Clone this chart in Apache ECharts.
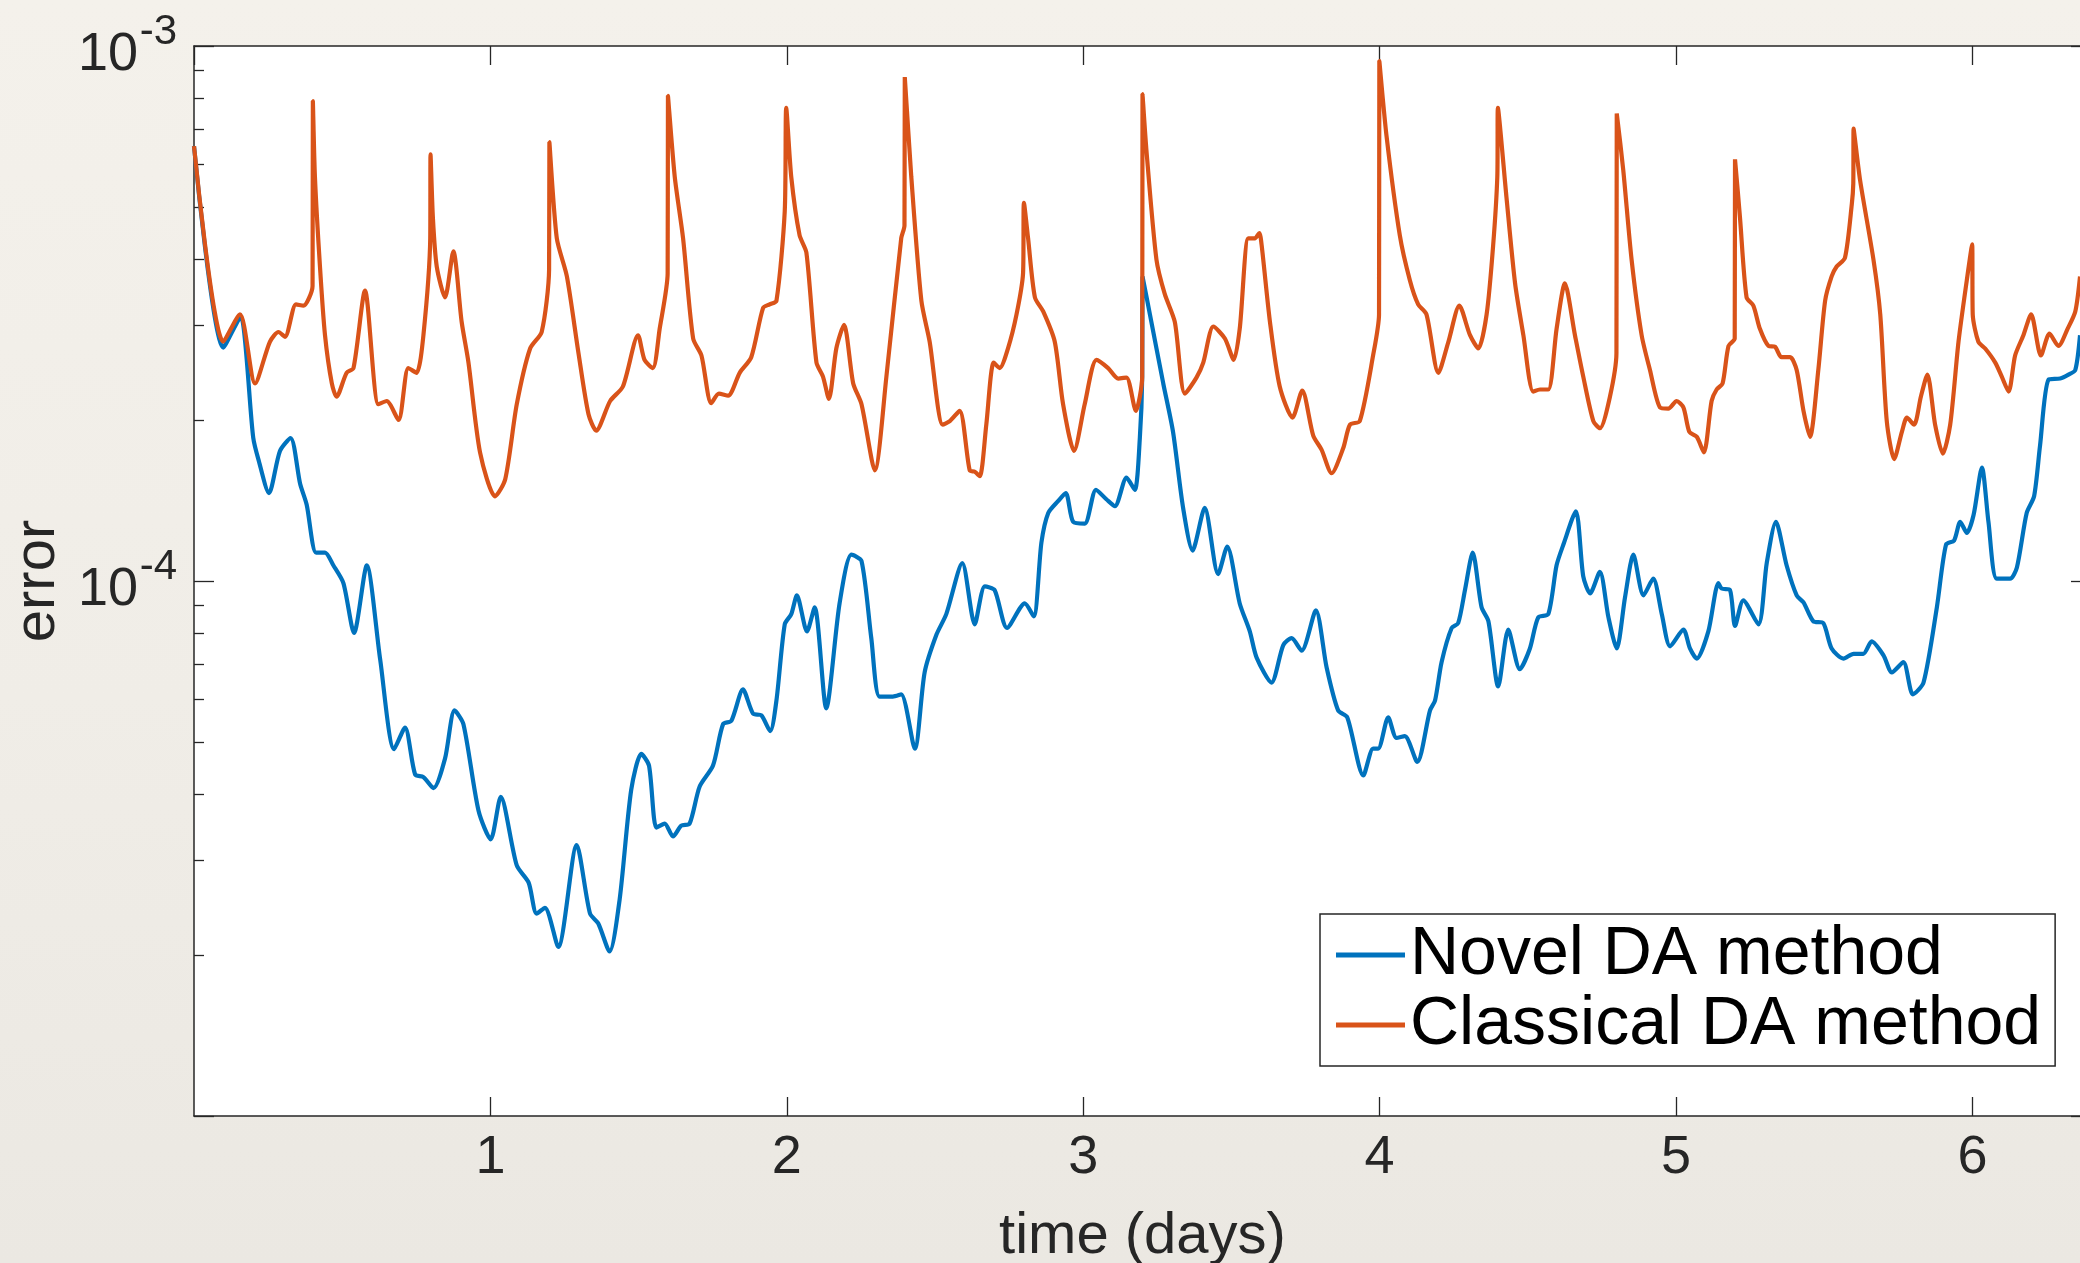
<!DOCTYPE html>
<html>
<head>
<meta charset="utf-8">
<script src="https://cdn.jsdelivr.net/npm/echarts@6/dist/echarts.min.js"></script>
<style>
html,body{margin:0;padding:0;width:2080px;height:1263px;overflow:hidden;
background:linear-gradient(180deg,#f4f1eb 0%,#f0ede7 55%,#ebe8e2 100%);}
#chart{width:2080px;height:1263px;}
</style>
</head>
<body>
<div id="chart"></div>
<script>
// time in days; error values in units of 1e-4
const novelTime = [
  0,0.099,0.155,0.200,0.217,0.253,0.290,0.326,0.358,0.380,
  0.412,0.442,0.470,0.504,0.540,0.583,0.628,0.675,0.712,0.746,
  0.774,0.808,0.847,0.879,0.909,0.960,1.001,1.035,1.089,1.129,
  1.156,1.184,1.229,1.291,1.336,1.364,1.402,1.436,1.475,1.509,
  1.535,1.560,1.588,1.616,1.644,1.672,1.706,1.751,1.785,1.813,
  1.852,1.886,1.914,1.944,1.965,1.993,2.015,2.034,2.068,2.094,
  2.133,2.178,2.218,2.252,2.285,2.313,2.358,2.386,2.432,2.465,
  2.505,2.538,2.592,2.634,2.668,2.701,2.743,2.803,2.833,2.859,
  2.882,2.915,2.941,2.966,3.005,3.043,3.079,3.107,3.146,3.174,
  3.191,3.199,3.200,3.225,3.270,3.303,3.337,3.369,3.410,3.455,
  3.486,3.528,3.562,3.585,3.635,3.675,3.703,3.737,3.785,3.821,
  3.860,3.891,3.945,3.978,3.995,4.029,4.057,4.085,4.127,4.170,
  4.187,4.209,4.243,4.265,4.288,4.314,4.344,4.367,4.400,4.434,
  4.473,4.507,4.535,4.569,4.597,4.620,4.662,4.687,4.710,4.743,
  4.772,4.800,4.828,4.856,4.890,4.923,4.952,4.980,5.025,5.047,
  5.070,5.109,5.143,5.154,5.182,5.199,5.227,5.278,5.306,5.337,
  5.373,5.407,5.430,5.463,5.497,5.525,5.565,5.599,5.632,5.660,
  5.700,5.728,5.767,5.799,5.835,5.880,5.911,5.938,5.959,5.981,
  6.004,6.032,6.054,6.082,6.127,6.150,6.183,6.208,6.228,6.257,
  6.296,6.324,6.347,6.363
];
const novelError = [
  6.50,2.73,3.10,1.85,1.69,1.46,1.75,1.85,1.52,1.39,
  1.13,1.13,1.07,0.991,0.800,1.07,0.714,0.485,0.532,0.435,
  0.430,0.410,0.466,0.573,0.540,0.372,0.329,0.395,0.294,0.273,
  0.239,0.245,0.207,0.321,0.239,0.229,0.203,0.254,0.407,0.475,
  0.452,0.346,0.352,0.333,0.349,0.352,0.413,0.452,0.540,0.548,
  0.627,0.565,0.561,0.524,0.598,0.830,0.867,0.940,0.805,0.893,
  0.578,0.908,1.12,1.09,0.782,0.608,0.608,0.614,0.486,0.675,
  0.794,0.867,1.08,0.830,0.977,0.962,0.817,0.908,0.859,1.18,
  1.34,1.41,1.46,1.29,1.28,1.48,1.42,1.38,1.56,1.48,
  1.85,2.41,3.71,3.15,2.34,1.90,1.37,1.14,1.37,1.03,
  1.16,0.908,0.805,0.719,0.646,0.759,0.782,0.741,0.881,0.690,
  0.573,0.556,0.433,0.486,0.486,0.556,0.509,0.513,0.459,0.573,
  0.598,0.705,0.817,0.834,0.962,1.13,0.893,0.841,0.635,0.811,
  0.684,0.748,0.855,0.867,1.07,1.17,1.35,1.02,0.948,1.04,
  0.855,0.748,0.933,1.12,0.940,1.01,0.867,0.755,0.811,0.748,
  0.716,0.805,0.991,0.968,0.962,0.824,0.920,0.830,1.08,1.29,
  1.07,0.940,0.912,0.841,0.834,0.748,0.716,0.731,0.731,0.771,
  0.726,0.675,0.705,0.614,0.646,0.893,1.17,1.19,1.29,1.23,
  1.33,1.63,1.29,1.01,1.01,1.06,1.34,1.44,1.79,2.38,
  2.39,2.43,2.48,2.88
];
const classicalTime = [
  0,0.099,0.155,0.206,0.256,0.285,0.307,0.344,0.369,0.400,
  0.401,0.408,0.425,0.442,0.465,0.481,0.515,0.538,0.577,0.622,
  0.650,0.690,0.723,0.751,0.774,0.797,0.798,0.806,0.819,0.847,
  0.875,0.903,0.926,0.965,1.016,1.050,1.089,1.134,1.173,1.198,
  1.199,1.224,1.258,1.297,1.331,1.357,1.404,1.447,1.498,1.520,
  1.548,1.571,1.598,1.599,1.622,1.650,1.684,1.712,1.745,1.771,
  1.802,1.841,1.880,1.920,1.942,1.965,1.993,1.998,2.015,2.043,
  2.066,2.100,2.122,2.142,2.167,2.193,2.224,2.252,2.297,2.336,
  2.386,2.397,2.398,2.420,2.454,2.482,2.526,2.550,2.583,2.617,
  2.634,2.651,2.673,2.698,2.718,2.746,2.775,2.797,2.800,2.814,
  2.837,2.865,2.904,2.932,2.969,3.005,3.045,3.084,3.118,3.146,
  3.178,3.191,3.199,3.200,3.213,3.247,3.275,3.309,3.343,3.382,
  3.405,3.439,3.478,3.508,3.528,3.557,3.579,3.594,3.602,3.630,
  3.663,3.706,3.739,3.776,3.804,3.838,3.877,3.900,3.933,3.978,
  3.998,3.999,4.023,4.068,4.102,4.130,4.158,4.198,4.232,4.269,
  4.305,4.333,4.361,4.383,4.397,4.399,4.428,4.457,4.485,4.518,
  4.541,4.569,4.597,4.625,4.659,4.687,4.721,4.743,4.777,4.799,
  4.800,4.822,4.850,4.884,4.912,4.946,4.974,5.002,5.025,5.045,
  5.070,5.094,5.120,5.137,5.157,5.177,5.198,5.199,5.216,5.238,
  5.261,5.283,5.312,5.334,5.356,5.385,5.407,5.430,5.452,5.480,
  5.503,5.525,5.542,5.570,5.593,5.598,5.599,5.621,5.666,5.689,
  5.711,5.736,5.762,5.779,5.803,5.826,5.848,5.874,5.900,5.925,
  5.953,5.981,5.999,6.001,6.020,6.043,6.077,6.099,6.122,6.144,
  6.172,6.198,6.231,6.260,6.290,6.321,6.347,6.363
];
const classicalError = [
  6.50,2.80,3.15,2.34,2.80,2.92,2.86,3.29,3.27,3.56,
  7.89,5.69,3.87,2.88,2.34,2.21,2.45,2.50,3.49,2.14,
  2.17,2.00,2.50,2.45,2.88,4.37,6.27,4.77,3.87,3.39,
  4.13,3.05,2.56,1.74,1.44,1.55,2.14,2.72,2.92,3.82,
  6.61,4.37,3.71,2.67,2.05,1.91,2.17,2.31,2.88,2.59,
  2.50,2.96,3.76,8.07,5.69,4.37,2.84,2.64,2.15,2.24,
  2.22,2.45,2.62,3.24,3.29,3.34,4.91,7.66,5.69,4.43,
  4.11,2.56,2.41,2.19,2.72,3.01,2.34,2.14,1.61,2.41,
  4.37,4.62,8.75,5.69,3.34,2.80,1.96,1.99,2.08,1.61,
  1.60,1.57,1.96,2.56,2.50,2.72,3.15,3.76,5.09,4.37,
  3.39,3.19,2.80,2.14,1.75,2.14,2.59,2.50,2.39,2.40,
  2.08,2.21,2.41,8.13,6.41,3.99,3.44,3.05,2.24,2.40,
  2.56,2.99,2.84,2.59,2.96,4.37,4.37,4.47,4.24,3.05,
  2.31,2.02,2.27,1.87,1.76,1.59,1.77,1.96,1.99,2.64,
  3.15,9.38,6.81,4.43,3.65,3.29,3.15,2.45,2.80,3.27,
  2.88,2.72,3.15,4.24,5.69,7.66,5.21,3.60,2.88,2.26,
  2.28,2.28,2.96,3.60,2.88,2.41,1.99,1.93,2.21,2.67,
  7.48,5.86,3.99,2.88,2.48,2.11,2.10,2.17,2.11,1.90,
  1.86,1.74,2.17,2.28,2.34,2.75,2.84,6.14,4.76,3.39,
  3.27,2.96,2.75,2.74,2.62,2.62,2.48,2.08,1.86,2.48,
  3.34,3.71,3.87,4.02,5.06,5.53,7.01,5.61,3.99,3.15,
  1.99,1.69,1.90,2.02,1.96,2.21,2.43,1.96,1.73,1.96,
  2.80,3.65,4.26,3.15,2.80,2.72,2.56,2.41,2.26,2.64,
  2.88,3.15,2.64,2.90,2.75,2.96,3.19,3.71
];
const seriesNames = ['Novel DA method', 'Classical DA method'];
const seriesColors = ['#0072BD', '#D95319'];
const decadeExponents = [-5, -4, -3];      // 10^-5 .. 10^-3 (axis range)
const minorMantissas = [2, 3, 4, 5, 6, 7, 8, 9];

const AXIS = '#262626';
const FONT = '"Liberation Sans", Arial, Helvetica, sans-serif';

// minor log tick positions (in exponent space)
const minorTicks = [];
decadeExponents.slice(0, -1).forEach(e => minorMantissas.forEach(k => minorTicks.push(e + Math.log10(k))));

function pairs(t, v) { const n = Math.min(t.length, v.length); const out = []; for (let i = 0; i < n; i++) out.push([t[i], v[i]]); return out; }

// kind: 'major' (axis line + major ticks), 'minor' (minor ticks), 'base' ("10" labels), 'exp' (superscript labels)
function decorY(position, kind) {
  const ax = {
    type: 'value', position: position,
    min: decadeExponents[0], max: decadeExponents[decadeExponents.length - 1], interval: 1,
    axisLine: { show: kind === 'major', onZero: false, lineStyle: { color: AXIS, width: 1.5 } },
    axisTick: { show: false },
    axisLabel: { show: false },
    splitLine: { show: false }
  };
  if (kind === 'major') {
    ax.axisTick = { show: true, inside: true, length: 20, lineStyle: { color: AXIS, width: 1.3 } };
  } else if (kind === 'minor') {
    ax.axisTick = { show: true, inside: true, length: 10, customValues: minorTicks, lineStyle: { color: AXIS, width: 1.3 } };
  } else if (kind === 'base') {
    ax.axisLabel = {
      show: true, margin: 56, showMinLabel: false, showMaxLabel: true,
      formatter: () => '10', fontSize: 54, lineHeight: 18, fontFamily: FONT, color: AXIS,
      verticalAlign: 'top'
    };
    ax.name = 'error';
    ax.nameLocation = 'middle';
    ax.nameGap = 125;
    ax.nameTextStyle = { fontSize: 58, fontFamily: FONT, color: AXIS, lineHeight: 58 };
  } else if (kind === 'exp') {
    ax.axisLabel = {
      show: true, margin: 17, showMinLabel: false, showMaxLabel: true,
      formatter: v => String(v), fontSize: 42, lineHeight: 28, fontFamily: FONT, color: AXIS,
      verticalAlign: 'bottom'
    };
  }
  return ax;
}

const chart = echarts.init(document.getElementById('chart'), null, { renderer: 'canvas' });
chart.setOption({
  animation: false,
  backgroundColor: 'transparent',
  grid: { left: 194, right: -11, top: 46, bottom: 147, show: true, backgroundColor: '#ffffff', borderWidth: 0, outerBoundsMode: 'none', containLabel: false },
  legend: {
    orient: 'vertical', left: 1320, top: 914,
    padding: [7, 14, 7, 16], itemWidth: 69, itemHeight: 5, itemGap: 2,
    icon: 'rect',
    backgroundColor: '#ffffff', borderColor: AXIS, borderWidth: 1.5, borderRadius: 0,
    textStyle: { fontSize: 68, fontFamily: FONT, color: '#000', lineHeight: 67 },
    data: seriesNames
  },
  xAxis: [
    {
      type: 'value', position: 'bottom', min: 0, max: 6.4, interval: 1,
      axisLine: { show: true, onZero: false, lineStyle: { color: AXIS, width: 1.5 } },
      axisTick: { show: true, inside: true, length: 19, lineStyle: { color: AXIS, width: 1.3 } },
      axisLabel: { show: true, margin: 15, showMinLabel: false, showMaxLabel: false, fontSize: 54, lineHeight: 54, fontFamily: FONT, color: AXIS },
      splitLine: { show: false },
      name: 'time (days)', nameLocation: 'middle', nameGap: 92,
      nameTextStyle: { fontSize: 58, fontFamily: FONT, color: AXIS, lineHeight: 58 }
    },
    {
      type: 'value', position: 'top', min: 0, max: 6.4, interval: 1,
      axisLine: { show: true, onZero: false, lineStyle: { color: AXIS, width: 1.5 } },
      axisTick: { show: true, inside: true, length: 19, lineStyle: { color: AXIS, width: 1.3 } },
      axisLabel: { show: false }, splitLine: { show: false }
    }
  ],
  yAxis: [
    { type: 'log', logBase: 10, min: 0.1, max: 10, show: false, splitLine: { show: false } },
    decorY('left', 'major'),
    decorY('left', 'minor'),
    decorY('left', 'base'),
    decorY('left', 'exp'),
    decorY('right', 'major'),
    decorY('right', 'minor')
  ],
  series: [
    {
      name: seriesNames[0], type: 'line', xAxisIndex: 0, yAxisIndex: 0,
      data: pairs(novelTime, novelError), symbol: 'none', showSymbol: false,
      smooth: 0.25,
      lineStyle: { color: seriesColors[0], width: 4.2 }, itemStyle: { color: seriesColors[0] },
      clip: true, z: 2
    },
    {
      name: seriesNames[1], type: 'line', xAxisIndex: 0, yAxisIndex: 0,
      data: pairs(classicalTime, classicalError), symbol: 'none', showSymbol: false,
      smooth: 0.25,
      lineStyle: { color: seriesColors[1], width: 4.2 }, itemStyle: { color: seriesColors[1] },
      clip: true, z: 3
    }
  ]
});
</script>
</body>
</html>
